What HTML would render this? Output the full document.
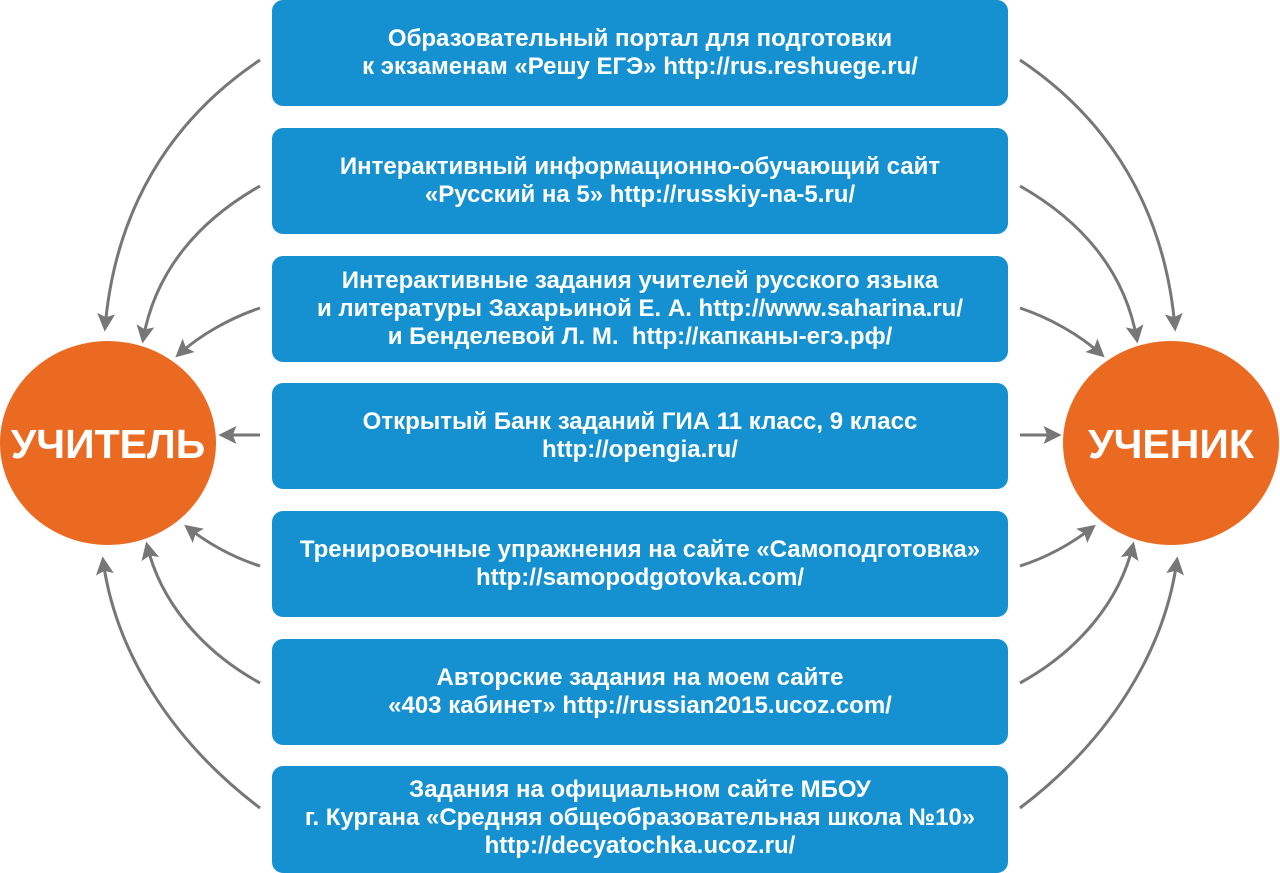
<!DOCTYPE html>
<html><head><meta charset="utf-8"><style>
html,body{margin:0;padding:0;background:#fff;}
svg{display:block}
text{font-family:"Liberation Sans",Arial,sans-serif;font-weight:bold;fill:#fff;text-anchor:middle}
.b{font-size:24px}
.c{font-size:41px}
path.a{fill:none;stroke:#777;stroke-width:3}
</style></head><body>
<svg width="1280" height="873" viewBox="0 0 1280 873">
<defs><marker id="m" viewBox="0 0 10 10" refX="8" refY="5" markerWidth="22" markerHeight="18" markerUnits="userSpaceOnUse" orient="auto"><path d="M0,0 L10,5 L0,10 L2,5 z" fill="#777"/></marker></defs>
<g fill="#1590d0">
<rect x="272" y="0" width="736" height="106" rx="11"/>
<rect x="272" y="128" width="736" height="106" rx="11"/>
<rect x="272" y="256" width="736" height="106" rx="11"/>
<rect x="272" y="383" width="736" height="106" rx="11"/>
<rect x="272" y="511" width="736" height="106" rx="11"/>
<rect x="272" y="639" width="736" height="106" rx="11"/>
<rect x="272" y="766" width="736" height="107" rx="11"/>
</g>
<ellipse cx="108" cy="443" rx="108" ry="102" fill="#ea6a22"/>
<ellipse cx="1171" cy="443" rx="108" ry="102" fill="#ea6a22"/>
<text class="c" x="108" y="458">УЧИТЕЛЬ</text>
<text class="c" x="1171" y="458">УЧЕНИК</text>
<g class="b">
<text x="640" y="46">Образовательный портал для подготовки</text>
<text x="640" y="74">к экзаменам «Решу ЕГЭ» http://rus.reshuege.ru/</text>
<text x="640" y="174">Интерактивный информационно-обучающий сайт</text>
<text x="640" y="202">«Русский на 5» http://russkiy-na-5.ru/</text>
<text x="640" y="288">Интерактивные задания учителей русского языка</text>
<text x="640" y="316">и литературы Захарьиной Е. А. http://www.saharina.ru/</text>
<text x="640" y="344" xml:space="preserve">и Бенделевой Л. М.  http://капканы-егэ.рф/</text>
<text x="640" y="429">Открытый Банк заданий ГИА 11 класс, 9 класс</text>
<text x="640" y="457">http://opengia.ru/</text>
<text x="640" y="557">Тренировочные упражнения на сайте «Самоподготовка»</text>
<text x="640" y="585">http://samopodgotovka.com/</text>
<text x="640" y="685">Авторские задания на моем сайте</text>
<text x="640" y="713">«403 кабинет» http://russian2015.ucoz.com/</text>
<text x="640" y="797">Задания на официальном сайте МБОУ</text>
<text x="640" y="825">г. Кургана «Средняя общеобразовательная школа №10»</text>
<text x="640" y="853">http://decyatochka.ucoz.ru/</text>
</g>
<g id="L">
<path class="a" marker-end="url(#m)" d="M260,60 C170,120 115,210 105,328"/>
<path class="a" marker-end="url(#m)" d="M260,186 C200,220 155,270 143,340"/>
<path class="a" marker-end="url(#m)" d="M260,308 C230,318 200,335 178,355"/>
<path class="a" marker-end="url(#m)" d="M260,435 L222,435"/>
<path class="a" marker-end="url(#m)" d="M260,566 C235,558 210,545 187,527"/>
<path class="a" marker-end="url(#m)" d="M260,683 C200,650 160,600 147,545"/>
<path class="a" marker-end="url(#m)" d="M260,808 C170,740 115,650 103,560"/>
</g>
<use href="#L" transform="translate(1280,0) scale(-1,1)"/>
</svg>
</body></html>
